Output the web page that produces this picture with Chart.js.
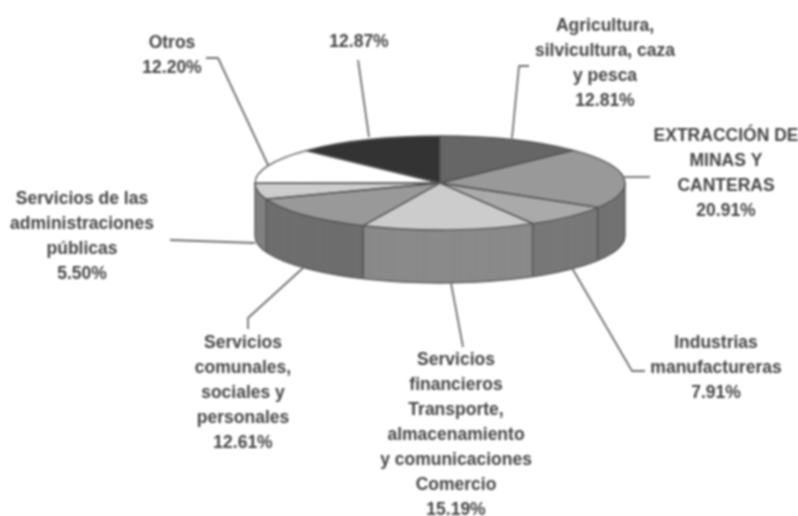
<!DOCTYPE html>
<html>
<head>
<meta charset="utf-8">
<title>Pie</title>
<script src="https://cdn.jsdelivr.net/npm/chart.js@4"></script>
<style>
  html, body { margin: 0; padding: 0; background: #fff; }
  #wrap { width: 798px; height: 516px; overflow: hidden; }
  #myChart { filter: blur(0.8px); }
</style>
</head>
<body>
<div id="wrap"><canvas id="myChart" width="798" height="516"></canvas></div>
<script>
// data, clockwise from the top
var sectores = [
  "Agricultura, silvicultura, caza y pesca",
  "EXTRACCIÓN DE MINAS Y CANTERAS",
  "Industrias manufactureras",
  "Servicios financieros Transporte, almacenamiento y comunicaciones Comercio",
  "Servicios comunales, sociales y personales",
  "Servicios de las administraciones públicas",
  "Otros",
  "Sin nombre"
];
var valores = [12.81, 20.91, 7.91, 15.19, 12.61, 5.50, 12.20, 12.87];
var colores = ["#666666", "#999999", "#aaaaaa", "#cccccc", "#999999", "#cccccc", "#ffffff", "#333333"];
var colores_lado = ["#555555", "#727272", "#787878", "#8a8a8a", "#6e6e6e", "#808080", "#aaaaaa", "#222222"];

// label text per slice
var etiquetas = [
  ["Agricultura,", "silvicultura, caza", "y pesca", "12.81%"],
  ["EXTRACCIÓN DE", "MINAS Y", "CANTERAS", "20.91%"],
  ["Industrias", "manufactureras", "7.91%"],
  ["Servicios", "financieros", "Transporte,", "almacenamiento", "y comunicaciones", "Comercio", "15.19%"],
  ["Servicios", "comunales,", "sociales y", "personales", "12.61%"],
  ["Servicios de las", "administraciones", "públicas", "5.50%"],
  ["Otros", "12.20%"],
  ["12.87%"]
];

// layout of the pie and the labels
var CENTRO_X = 440, CENTRO_Y = 183, RADIO = 185, RADIO_Y = 47, ALTO = 53;
var LINEA = 25;
var etiqueta_x = [605, 726, 716, 456, 243, 82, 172, 359];
var etiqueta_y = [26, 136, 343, 360, 343, 199, 43, 42];
var guias = [
  [[529, 66], [519, 66], [512, 138]],
  [[624, 177], [650, 177]],
  [[572, 268], [632, 371], [645, 371]],
  [[451, 283], [463, 347]],
  [[303, 268], [248, 318], [248, 329]],
  [[170, 240], [255, 243]],
  [[206, 58], [218, 58], [268, 165]],
  [[358, 60], [369, 137]]
];

function aplastar(ctx, arc, dy) {
  ctx.translate(CENTRO_X, CENTRO_Y + dy);
  ctx.scale(1, RADIO_Y / RADIO);
  ctx.translate(-arc.x, -arc.y);
}

var pie3d = {
  id: 'pie3d',
  beforeDatasetsDraw: function (chart) {
    var ctx = chart.ctx;
    var arcos = chart.getDatasetMeta(0).data;
    // side wall: the same arcs stacked from the bottom up
    for (var d = ALTO; d > 0; d--) {
      for (var i = 0; i < arcos.length; i++) {
        var op = arcos[i].options;
        var original = op.backgroundColor;
        op.backgroundColor = colores_lado[i];
        ctx.save();
        aplastar(ctx, arcos[i], d);
        arcos[i].draw(ctx);
        ctx.restore();
        op.backgroundColor = original;
      }
    }
    // outline of the wall
    ctx.save();
    ctx.strokeStyle = '#555555';
    ctx.lineWidth = 1.3;
    ctx.beginPath();
    ctx.save();
    aplastar(ctx, arcos[0], ALTO);
    ctx.arc(arcos[0].x, arcos[0].y, RADIO, 0, Math.PI);
    ctx.restore();
    ctx.stroke();
    ctx.beginPath();
    for (var j = 0; j < arcos.length; j++) {
      var a = arcos[j].endAngle;
      if (Math.sin(a) > -0.1) {
        ctx.moveTo(CENTRO_X + RADIO * Math.cos(a), CENTRO_Y + RADIO_Y * Math.sin(a));
        ctx.lineTo(CENTRO_X + RADIO * Math.cos(a), CENTRO_Y + RADIO_Y * Math.sin(a) + ALTO);
      }
    }
    ctx.moveTo(CENTRO_X - RADIO, CENTRO_Y);
    ctx.lineTo(CENTRO_X - RADIO, CENTRO_Y + ALTO);
    ctx.moveTo(CENTRO_X + RADIO, CENTRO_Y);
    ctx.lineTo(CENTRO_X + RADIO, CENTRO_Y + ALTO);
    ctx.stroke();
    ctx.restore();
    // top face, drawn by the chart itself
    ctx.save();
    aplastar(ctx, arcos[0], 0);
  },
  afterDatasetsDraw: function (chart) {
    var ctx = chart.ctx;
    ctx.restore();
    var arcos = chart.getDatasetMeta(0).data;
    // slice outlines, stroked unscaled so the width stays even
    ctx.save();
    ctx.strokeStyle = '#555555';
    ctx.lineWidth = 1.3;
    ctx.lineJoin = 'round';
    for (var i = 0; i < arcos.length; i++) {
      ctx.beginPath();
      ctx.save();
      aplastar(ctx, arcos[i], 0);
      ctx.moveTo(arcos[i].x, arcos[i].y);
      ctx.arc(arcos[i].x, arcos[i].y, RADIO, arcos[i].startAngle, arcos[i].endAngle);
      ctx.closePath();
      ctx.restore();
      ctx.stroke();
    }
    // leader lines
    ctx.strokeStyle = '#6e6e6e';
    ctx.lineWidth = 1.8;
    for (var g = 0; g < guias.length; g++) {
      ctx.beginPath();
      for (var p = 0; p < guias[g].length; p++) {
        if (p === 0) ctx.moveTo(guias[g][p][0], guias[g][p][1]);
        else ctx.lineTo(guias[g][p][0], guias[g][p][1]);
      }
      ctx.stroke();
    }
    // labels
    ctx.fillStyle = '#444444';
    ctx.font = 'bold 17.5px "Liberation Sans"';
    ctx.textAlign = 'center';
    ctx.textBaseline = 'middle';
    for (var e = 0; e < etiquetas.length; e++) {
      for (var l = 0; l < etiquetas[e].length; l++) {
        ctx.fillText(etiquetas[e][l], etiqueta_x[e], etiqueta_y[e] + l * LINEA);
      }
    }
    ctx.restore();
  }
};

// GRAPH SETTINGS
var ctx = document.getElementById('myChart').getContext('2d');
var myChart = new Chart(ctx, {
  type: 'pie',
  data: {
    labels: sectores,
    datasets: [{
      data: valores,
      backgroundColor: colores,
      borderWidth: 0,
      radius: RADIO,
      clip: false
    }]
  },
  options: {
    responsive: false,
    animation: false,
    events: [],
    layout: { padding: 0 },
    plugins: {
      legend: { display: false },
      tooltip: { enabled: false }
    }
  },
  plugins: [pie3d]
});
</script>
</body>
</html>
